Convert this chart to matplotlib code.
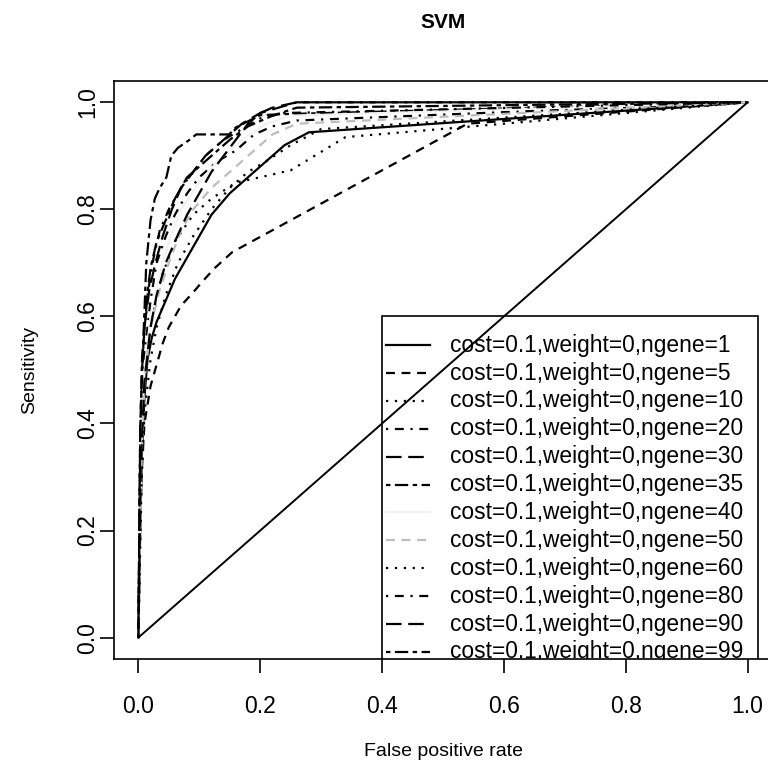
import matplotlib
matplotlib.use("Agg")
import matplotlib.pyplot as plt
from matplotlib.patches import Rectangle

plt.rcParams['font.family'] = ['Liberation Sans', 'DejaVu Sans']

title = "SVM"
xlabel = "False positive rate"
ylabel = "Sensitivity"
xticks = [0.0, 0.2, 0.4, 0.6, 0.8, 1.0]
yticks = [0.0, 0.2, 0.4, 0.6, 0.8, 1.0]
ngenes = [1, 5, 10, 20, 30, 35, 40, 50, 60, 80, 90, 99]
labels = [f"cost=0.1,weight=0,ngene={g}" for g in ngenes]

fpr_1 = [0, 0.003, 0.006, 0.01, 0.015, 0.022, 0.03, 0.045, 0.06, 0.08, 0.1, 0.12, 0.15, 0.18, 0.21, 0.24, 0.265, 0.28, 1.0]
tpr_1 = [0, 0.2, 0.35, 0.45, 0.52, 0.56, 0.59, 0.63, 0.67, 0.71, 0.75, 0.79, 0.83, 0.86, 0.89, 0.92, 0.935, 0.944, 1.0]
fpr_5 = [0, 0.002, 0.005, 0.01, 0.02, 0.03, 0.04, 0.05, 0.07, 0.09, 0.105, 0.125, 0.154, 0.54, 1.0]
tpr_5 = [0, 0.15, 0.3, 0.4, 0.47, 0.51, 0.55, 0.58, 0.62, 0.645, 0.665, 0.69, 0.72, 0.96, 1.0]
fpr_10 = [0, 0.004, 0.008, 0.015, 0.025, 0.04, 0.06, 0.09, 0.12, 0.16, 0.2, 0.25, 0.34, 0.6, 1.0]
tpr_10 = [0, 0.3, 0.45, 0.55, 0.62, 0.68, 0.74, 0.79, 0.82, 0.85, 0.86, 0.873, 0.935, 0.96, 1.0]
fpr_20 = [0, 0.003, 0.007, 0.012, 0.02, 0.03, 0.045, 0.06, 0.08, 0.1, 0.13, 0.16, 0.19, 0.22, 0.26, 1.0]
tpr_20 = [0, 0.3, 0.45, 0.55, 0.63, 0.7, 0.75, 0.79, 0.83, 0.86, 0.89, 0.91, 0.94, 0.955, 0.966, 1.0]
fpr_30 = [0, 0.003, 0.006, 0.01, 0.018, 0.028, 0.04, 0.055, 0.07, 0.09, 0.11, 0.14, 0.17, 0.2, 0.23, 0.26, 1.0]
tpr_30 = [0, 0.35, 0.5, 0.58, 0.65, 0.7, 0.75, 0.8, 0.84, 0.87, 0.9, 0.93, 0.96, 0.98, 0.99, 1.0, 1.0]
fpr_35 = [0, 0.003, 0.008, 0.013, 0.02, 0.027, 0.035, 0.046, 0.054, 0.065, 0.084, 0.095, 0.149, 0.16, 0.2, 0.24, 1.0]
tpr_35 = [0, 0.35, 0.55, 0.7, 0.78, 0.82, 0.84, 0.86, 0.9, 0.915, 0.93, 0.94, 0.94, 0.953, 0.976, 0.978, 1.0]
fpr_40 = [0, 0.005, 0.01, 0.02, 0.035, 0.05, 0.07, 0.1, 0.13, 0.17, 0.21, 0.25, 1.0]
tpr_40 = [0, 0.35, 0.5, 0.6, 0.68, 0.74, 0.8, 0.85, 0.89, 0.93, 0.96, 0.975, 1.0]
fpr_50 = [0, 0.004, 0.01, 0.02, 0.035, 0.05, 0.07, 0.09, 0.12, 0.15, 0.18, 0.22, 0.26, 1.0]
tpr_50 = [0, 0.3, 0.48, 0.58, 0.65, 0.7, 0.76, 0.8, 0.84, 0.87, 0.9, 0.94, 0.96, 1.0]
fpr_60 = [0, 0.005, 0.01, 0.02, 0.03, 0.045, 0.065, 0.09, 0.12, 0.15, 0.18, 0.21, 0.25, 0.3, 1.0]
tpr_60 = [0, 0.28, 0.42, 0.52, 0.58, 0.64, 0.7, 0.75, 0.8, 0.84, 0.87, 0.89, 0.92, 0.95, 1.0]
fpr_80 = [0, 0.003, 0.008, 0.015, 0.025, 0.035, 0.05, 0.07, 0.09, 0.11, 0.14, 0.17, 0.2, 0.24, 1.0]
tpr_80 = [0, 0.4, 0.55, 0.64, 0.71, 0.76, 0.8, 0.84, 0.87, 0.9, 0.93, 0.95, 0.97, 0.98, 1.0]
fpr_90 = [0, 0.004, 0.01, 0.02, 0.03, 0.045, 0.06, 0.08, 0.1, 0.12, 0.14, 0.16, 0.18, 0.2, 0.22, 0.26, 1.0]
tpr_90 = [0, 0.32, 0.48, 0.58, 0.64, 0.7, 0.74, 0.79, 0.83, 0.87, 0.9, 0.93, 0.96, 0.98, 0.99, 1.0, 1.0]
fpr_99 = [0, 0.003, 0.006, 0.012, 0.02, 0.03, 0.045, 0.06, 0.08, 0.1, 0.12, 0.15, 0.18, 0.22, 0.26, 1.0]
tpr_99 = [0, 0.38, 0.52, 0.62, 0.69, 0.74, 0.78, 0.82, 0.86, 0.88, 0.9, 0.93, 0.955, 0.975, 0.99, 1.0]

fprs = [fpr_1, fpr_5, fpr_10, fpr_20, fpr_30, fpr_35, fpr_40, fpr_50, fpr_60, fpr_80, fpr_90, fpr_99]
tprs = [tpr_1, tpr_5, tpr_10, tpr_20, tpr_30, tpr_35, tpr_40, tpr_50, tpr_60, tpr_80, tpr_90, tpr_99]

# R-style line types (lty 1..6 cycling) and palette seen in greyscale scan
lty_patterns = [None, (4, 3), (1, 3), (1, 3, 4, 3), (7, 3), (2, 2, 6, 2)]
colors = ['black', 'black', 'black', 'black', 'black', 'black',
          '#f2f2f2', '#bdbdbd', 'black', 'black', 'black', 'black']
LW = 1.6

def ls_for(i):
    p = lty_patterns[i % 6]
    return '-' if p is None else (0, p)

fig = plt.figure(figsize=(7.68, 7.67), dpi=100)
ax = fig.add_axes([114 / 768, 1 - 659 / 767, 658 / 768, (659 - 80.9) / 767])
ax.set_xlim(-0.04, 1.04)
ax.set_ylim(-0.04, 1.04)

for i in range(len(ngenes)):
    ax.plot(fprs[i], tprs[i], color=colors[i], linestyle=ls_for(i), lw=LW)

ax.plot([0, 1], [0, 1], color='black', lw=1.4)

# legend box (placed at x=0.4, y=0.6 like R legend(0.4, 0.6, ...)), clipped by plot region
leg_x0, leg_y0 = 0.4, 0.6
leg_x1 = 1.017
ax.add_patch(Rectangle((leg_x0, -0.2), leg_x1 - leg_x0, leg_y0 + 0.2, fill=False,
                       edgecolor='black', lw=1.2, clip_on=True, zorder=5))
row0 = 0.5463
drow = 0.0521
for i, lab in enumerate(labels):
    yy = row0 - drow * i
    ax.plot([0.407, 0.478], [yy, yy], color=colors[i], linestyle=ls_for(i), lw=LW,
            clip_on=True, zorder=6)
    ax.text(0.512, yy, lab, fontsize=16.4, va='center', ha='left', clip_on=True, zorder=6)

for s in ax.spines.values():
    s.set_linewidth(1.2)

ax.set_xticks(xticks)
ax.set_yticks(yticks)
ax.set_xticklabels([f"{t:.1f}" for t in xticks])
ax.set_yticklabels([f"{t:.1f}" for t in yticks], rotation=90, va='center')
ax.tick_params(direction='out', length=10, width=1.2, labelsize=16.5)
ax.tick_params(axis='x', pad=16)
ax.tick_params(axis='y', pad=0.5)

ax.set_xlabel(xlabel, fontsize=14)
ax.set_ylabel(ylabel, fontsize=14)
ax.xaxis.label.set_va('center')
ax.yaxis.label.set_va('center')
ax.xaxis.set_label_coords(0.5, (659 - 752) / 578.1)
ax.yaxis.set_label_coords((30 - 114) / 658, 0.5)

fig.text(443 / 768, 1 - 23 / 767, title, fontsize=15, fontweight='bold', ha='center', va='center')

fig.savefig("out.png", dpi=100)
